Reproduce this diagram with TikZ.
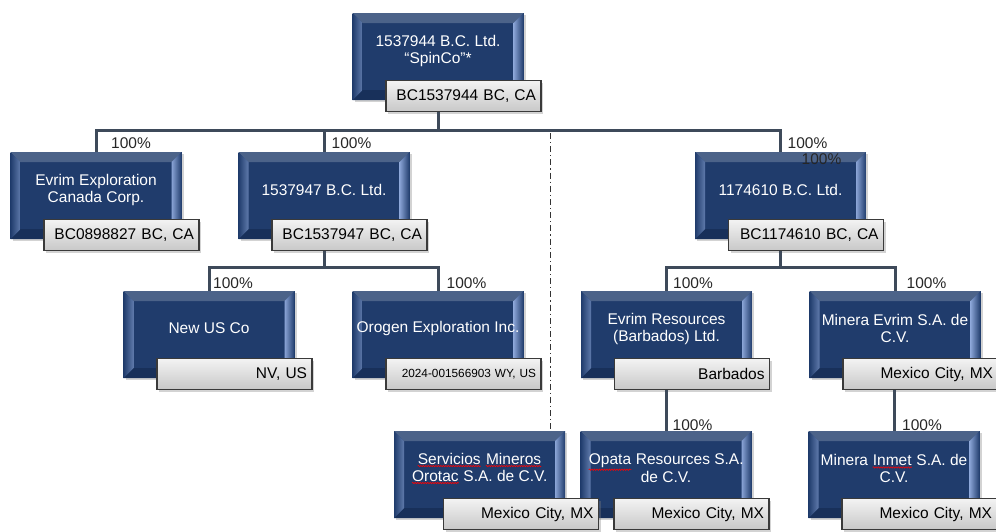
\documentclass[tikz,border=0pt]{standalone}
\usepackage{fontspec}
\setmainfont{Liberation Sans}
\usetikzlibrary{shadows,decorations.pathmorphing}
\definecolor{navy}{HTML}{203C6C}
\definecolor{bevelhi}{HTML}{8AA4D6}
\definecolor{bevello}{HTML}{18305A}
\definecolor{linkgray}{HTML}{3E4A5A}
\definecolor{regtop}{HTML}{F3F3F3}
\definecolor{regbot}{HTML}{C8C8C8}
\definecolor{regedge}{HTML}{3A3A3A}
\newcommand{\spellwave}[1]{\tikz[baseline=(sw.base)]{\node[inner sep=0pt] (sw) {#1};
  \draw[red, line width=0.6pt, decorate, decoration={snake, amplitude=0.7pt, segment length=2.5pt}]
    ([yshift=-1.5pt]sw.south west) -- ([yshift=-1.5pt]sw.south east);}}

\begin{document}
\begin{tikzpicture}[x=1pt,y=-1pt,
  entity/.style={fill=navy, minimum width=171pt, minimum height=87pt, inner sep=0pt,
    drop shadow={shadow xshift=2pt, shadow yshift=-2pt, opacity=0.35},
    path picture={
      \fill[navy!80!white] (path picture bounding box.north west) -- (path picture bounding box.north east)
        -- ([xshift=-10pt,yshift=-10pt]path picture bounding box.north east) -- ([xshift=10pt,yshift=-10pt]path picture bounding box.north west) -- cycle;
      \fill[bevello] (path picture bounding box.south west) -- (path picture bounding box.south east)
        -- ([xshift=-10pt,yshift=10pt]path picture bounding box.south east) -- ([xshift=10pt,yshift=10pt]path picture bounding box.south west) -- cycle;
      \shade[left color=navy, right color=bevelhi!60!navy] (path picture bounding box.north west) -- ([xshift=10pt,yshift=-10pt]path picture bounding box.north west)
        -- ([xshift=10pt,yshift=10pt]path picture bounding box.south west) -- (path picture bounding box.south west) -- cycle;
      \shade[left color=bevelhi, right color=navy] (path picture bounding box.north east) -- ([xshift=-10pt,yshift=-10pt]path picture bounding box.north east)
        -- ([xshift=-10pt,yshift=10pt]path picture bounding box.south east) -- (path picture bounding box.south east) -- cycle;
    }},
  ename/.style={text=white, align=center, inner sep=0pt, font=\fontsize{15.5pt}{17pt}\selectfont},
  regbox/.style={anchor=north west, draw=regedge, line width=1.5pt, top color=regtop, bottom color=regbot,
    minimum height=31pt, text width=145pt, inner xsep=5pt, inner ysep=0pt, align=right,
    drop shadow={shadow xshift=2pt, shadow yshift=-2pt, opacity=0.35},
    font=\fontsize{15.5pt}{17pt}\selectfont},
  pct/.style={inner sep=0pt, text=black!85, font=\fontsize{15.5pt}{17pt}\selectfont},
  link/.style={draw=linkgray, line width=3pt},
  divider/.style={draw=black!80, line width=0.8pt, dash pattern=on 6pt off 3pt on 1.2pt off 3pt}]

  \useasboundingbox (0,0) rectangle (996,531);

  \node[entity] (spinco) at (438,56.5) {};
  \node[ename] (spincoT) at ([yshift=6pt]spinco.center) {1537944 B.C. Ltd.\\“SpinCo”*};
  \node[regbox] (spincoR) at ([xshift=33pt,yshift=-67pt]spinco.north west) {BC1537944 BC, CA};

  \node[entity] (evrim) at (96,195.5) {};
  \node[ename] (evrimT) at ([yshift=6pt]evrim.center) {Evrim Exploration\\Canada Corp.};
  \node[regbox] (evrimR) at ([xshift=33pt,yshift=-67pt]evrim.north west) {BC0898827 BC, CA};

  \node[entity] (b47) at (324,195.5) {};
  \node[ename] (b47T) at ([yshift=6pt]b47.center) {1537947 B.C. Ltd.};
  \node[regbox] (b47R) at ([xshift=33pt,yshift=-67pt]b47.north west) {BC1537947 BC, CA};

  \node[entity] (b10) at (780.5,195.5) {};
  \node[ename] (b10T) at ([yshift=6pt]b10.center) {1174610 B.C. Ltd.};
  \node[regbox] (b10R) at ([xshift=33pt,yshift=-67pt]b10.north west) {BC1174610 BC, CA};

  \node[entity] (newus) at (209,334.5) {};
  \node[ename] (newusT) at ([yshift=6pt]newus.center) {New US Co};
  \node[regbox] (newusR) at ([xshift=33pt,yshift=-67pt]newus.north west) {NV, US};

  \node[entity] (orogen) at (438,334.5) {};
  \node[ename] (orogenT) at ([yshift=6pt]orogen.center) {Orogen Exploration Inc.};
  \node[regbox, font=\fontsize{11.8pt}{13pt}\selectfont] (orogenR) at ([xshift=33pt,yshift=-67pt]orogen.north west) {2024-001566903 WY, US};

  \node[entity] (evrimres) at (666.5,334.5) {};
  \node[ename] (evrimresT) at ([yshift=6pt]evrimres.center) {Evrim Resources\\(Barbados) Ltd.};
  \node[regbox] (evrimresR) at ([xshift=33pt,yshift=-67pt]evrimres.north west) {Barbados};

  \node[entity] (mineraev) at (895,334.5) {};
  \node[ename] (mineraevT) at ([yshift=6pt]mineraev.center) {Minera Evrim S.A. de\\C.V.};
  \node[regbox] (mineraevR) at ([xshift=33pt,yshift=-67pt]mineraev.north west) {Mexico City, MX};

  \coordinate (divtop) at (550,133);
  \node[entity] (serv) at (479.5,474.5) {};
  \node[ename] (servT) at ([yshift=6pt]serv.center) {\spellwave{Servicios} \spellwave{Mineros}\\\spellwave{Orotac} S.A. de C.V.};
  \draw[divider] (divtop) -- (divtop |- serv.north);

  \node[entity] (opata) at (666,474.5) {};
  \node[ename] (opataT) at ([yshift=6pt]opata.center) {\spellwave{Opata} Resources S.A.\\de C.V.};
  \node[regbox] (servR) at ([xshift=49pt,yshift=-67pt]serv.north west) {Mexico City, MX};
  \node[regbox] (opataR) at ([xshift=33pt,yshift=-67pt]opata.north west) {Mexico City, MX};

  \node[entity] (inmet) at (894,474.5) {};
  \node[ename] (inmetT) at ([yshift=6pt]inmet.center) {Minera \spellwave{Inmet} S.A. de\\C.V.};
  \node[regbox] (inmetR) at ([xshift=33pt,yshift=-67pt]inmet.north west) {Mexico City, MX};

  \coordinate (busA) at (0,130);
  \coordinate (busB) at (0,267);
  \draw[link] (spinco.center |- spincoR.south) -- (spinco.center |- busA);
  \draw[link] (evrim.north) |- (b10.north |- busA) -- (b10.north);
  \draw[link] (b47.north) -- (b47.north |- busA);
  \draw[link] (b47.center |- b47R.south) -- (b47.center |- busB);
  \draw[link] (newus.north) |- (orogen.north |- busB) -- (orogen.north);
  \draw[link] (b10.center |- b10R.south) -- (b10.center |- busB);
  \draw[link] (evrimres.north) |- (mineraev.north |- busB) -- (mineraev.north);
  \draw[link] (opata.north |- evrimresR.south) -- (opata.north);
  \draw[link] (inmet.north |- mineraevR.south) -- (inmet.north);

  \node[pct] (pctEvrim) at (131,143) {100\%};
  \node[pct] (pctB47) at (351.5,143) {100\%};
  \node[pct] (pctB10) at (807.5,143) {100\%};
  \node[pct] (pctB10b) at (821.5,159) {100\%};
  \node[pct] (pctNewus) at (233,283) {100\%};
  \node[pct] (pctOrogen) at (466.5,283) {100\%};
  \node[pct] (pctEvrimres) at (693,283) {100\%};
  \node[pct] (pctMineraev) at (926.5,283) {100\%};
  \node[pct] (pctOpata) at (692.5,425) {100\%};
  \node[pct] (pctInmet) at (922,425) {100\%};
\end{tikzpicture}
\end{document}
